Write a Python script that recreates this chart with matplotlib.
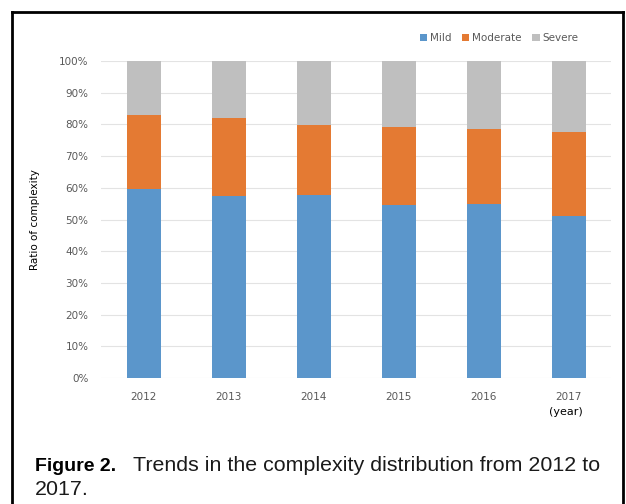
import matplotlib
matplotlib.use("Agg")
import matplotlib.pyplot as plt
from matplotlib.lines import Line2D
from matplotlib.patches import Patch
import numpy as np

years = ["2012", "2013", "2014", "2015", "2016", "2017"]
mild = [59.5, 57.4, 57.6, 54.5, 54.8, 51.0]
moderate = [23.6, 24.5, 22.2, 24.7, 23.6, 26.5]
severe = [16.9, 18.1, 20.2, 20.8, 21.6, 22.5]
series_names = ["Mild", "Moderate", "Severe"]
colors = ["#5B96CB", "#E47A33", "#BFBFBF"]

fig = plt.figure(figsize=(6.26, 5.04), dpi=100)
ax = fig.add_axes([101/626, 126/504, 510/626, 317/504])

x = np.arange(len(years))
w = 0.4
ax.bar(x, mild, w, color=colors[0], zorder=3)
ax.bar(x, moderate, w, bottom=mild, color=colors[1], zorder=3)
bot3 = [a + b for a, b in zip(mild, moderate)]
ax.bar(x, severe, w, bottom=bot3, color=colors[2], zorder=3)

ax.set_xlim(-0.5, len(years) - 0.5)
ax.set_ylim(0, 100)
ax.set_yticks(np.arange(0, 101, 10))
ax.set_yticklabels([f"{v}%" for v in range(0, 101, 10)])
ax.set_xticks(x)
ax.set_xticklabels(years)
for s in ax.spines.values():
    s.set_visible(False)
ax.grid(axis="y", color="#E3E3E3", linewidth=0.8, zorder=0)
ax.tick_params(axis="both", length=0, labelsize=7.5, labelcolor="#595959")
ax.tick_params(axis="y", pad=9)
ax.tick_params(axis="x", pad=10)

fig.text(35/626, 1 - 220/504, "Ratio of complexity", rotation=90, ha="center",
         va="center", fontsize=7.5, color="black")
fig.text(566/626, 1 - 412/504, "(year)", ha="center", va="center", fontsize=8, color="black")

handles = [Patch(facecolor=c) for c in colors]
fig.legend(handles, series_names, loc="center right", bbox_to_anchor=(588/626, 1 - 38/504),
           ncol=3, frameon=False, fontsize=7.5, handlelength=0.7, handleheight=0.7,
           handletextpad=0.3, columnspacing=1.0, labelcolor="#595959")

# outer frame
fig.add_artist(Line2D([12/626, 12/626], [0, 1 - 12/504], color="black", lw=2, transform=fig.transFigure))
fig.add_artist(Line2D([12/626, 623/626], [1 - 12/504, 1 - 12/504], color="black", lw=2, transform=fig.transFigure))
fig.add_artist(Line2D([623/626, 623/626], [0, 1 - 12/504], color="black", lw=2, transform=fig.transFigure))

fig.text(35/626, 1 - 471/504, "Figure 2.", fontsize=14, fontweight="bold",
         family=["Liberation Sans Narrow", "Liberation Sans", "DejaVu Sans"], fontstretch="condensed",
         ha="left", va="baseline", color="black")
fig.text(133/626, 1 - 471/504, "Trends in the complexity distribution from 2012 to",
         fontsize=15.4, family=["Liberation Sans", "DejaVu Sans"], ha="left", va="baseline", color="#1a1a1a")
fig.text(35/626, 1 - 495/504, "2017.", fontsize=15.4, family=["Liberation Sans", "DejaVu Sans"],
         ha="left", va="baseline", color="#1a1a1a")

fig.savefig("out.png", dpi=100)
